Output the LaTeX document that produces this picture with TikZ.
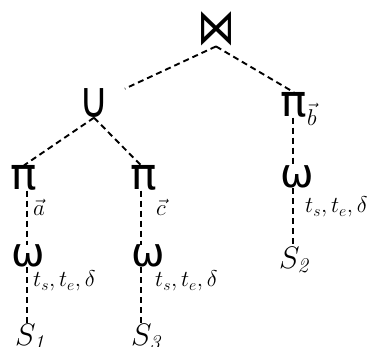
\documentclass[tikz,border=0pt]{standalone}
\usepackage{fontspec}
\newfontfamily\dv{DejaVu Sans}
\newcommand{\subtxt}[1]{\scalebox{1.1}{\fontsize{20}{24}\selectfont$#1$}}
\newcommand{\reltxt}[1]{\scalebox{1.5}{\fontsize{20}{24}\selectfont$#1$}}
\begin{document}
\begin{tikzpicture}[x=1pt,y=-1pt,
  op/.style={inner sep=0pt,font=\dv\fontsize{44}{48}\selectfont},
  om/.style={inner sep=0pt,font=\dv\fontsize{40}{44}\selectfont},
  bigop/.style={inner sep=0pt,font=\dv\fontsize{40}{44}\selectfont},
  sub/.style={inner sep=0pt},
  rel/.style={inner sep=0pt},
  edge/.style={draw=black,line width=1.9pt,dash pattern=on 6pt off 4pt}]
\useasboundingbox (0,0) rectangle (372,346);
\coordinate (colL) at (27,0);
\coordinate (colM) at (141,0);
\coordinate (colR) at (293,0);
\node[bigop] (join) at (216,29) {\scalebox{0.95}[1.25]{⋈}};
\node[bigop] (cup) at (94,103) {\scalebox{1}[1.25]{∪}};
\node[op] (pib) at (294,105) {π};
\node[sub,anchor=west] (bsub) at (307,114) {\subtxt{\vec b}};
\node[op] (piL) at (24,178) {π};
\node[sub,anchor=west] (asub) at (33,207) {\subtxt{\vec a}};
\node[op] (piM) at (144,178) {π};
\node[sub,anchor=west] (csub) at (156,207) {\subtxt{\vec c}};
\node[om] (omR) at (297,177) {ω};
\node[sub,anchor=west] (tR) at (305,207) {\subtxt{t_s,t_e,\delta}};
\node[om] (omL) at (28,256) {ω};
\node[sub,anchor=west] (tL) at (33,281) {\subtxt{t_s,t_e,\delta}};
\node[om] (omM) at (148,256) {ω};
\node[sub,anchor=west] (tM) at (155,281) {\subtxt{t_s,t_e,\delta}};
\node[rel] (S2) at (294,260) {\reltxt{S_{\mathit{2}}}};
\node[rel] (S1) at (30,337) {\reltxt{S_{\mathit{1}}}};
\node[rel] (S3) at (146,337) {\reltxt{S_{\mathit{3}}}};
\draw[edge,shorten >=34pt] (join.south) -- (cup.center);
\draw[edge] (join.south) -- (pib.north);
\draw[edge] (cup.south) -- (piL.north);
\draw[edge] (cup.south) -- (piM.north -| colM);
\draw[edge] (pib.south -| colR) -- (omR.north -| colR);
\draw[edge] (omR.south -| colR) -- (S2.north -| colR);
\draw[edge] (piL.south -| colL) -- (omL.north -| colL);
\draw[edge] (omL.south -| colL) -- (S1.north -| colL);
\draw[edge] (piM.south -| colM) -- (omM.north -| colM);
\draw[edge] (omM.south -| colM) -- (S3.north -| colM);
\end{tikzpicture}
\end{document}
